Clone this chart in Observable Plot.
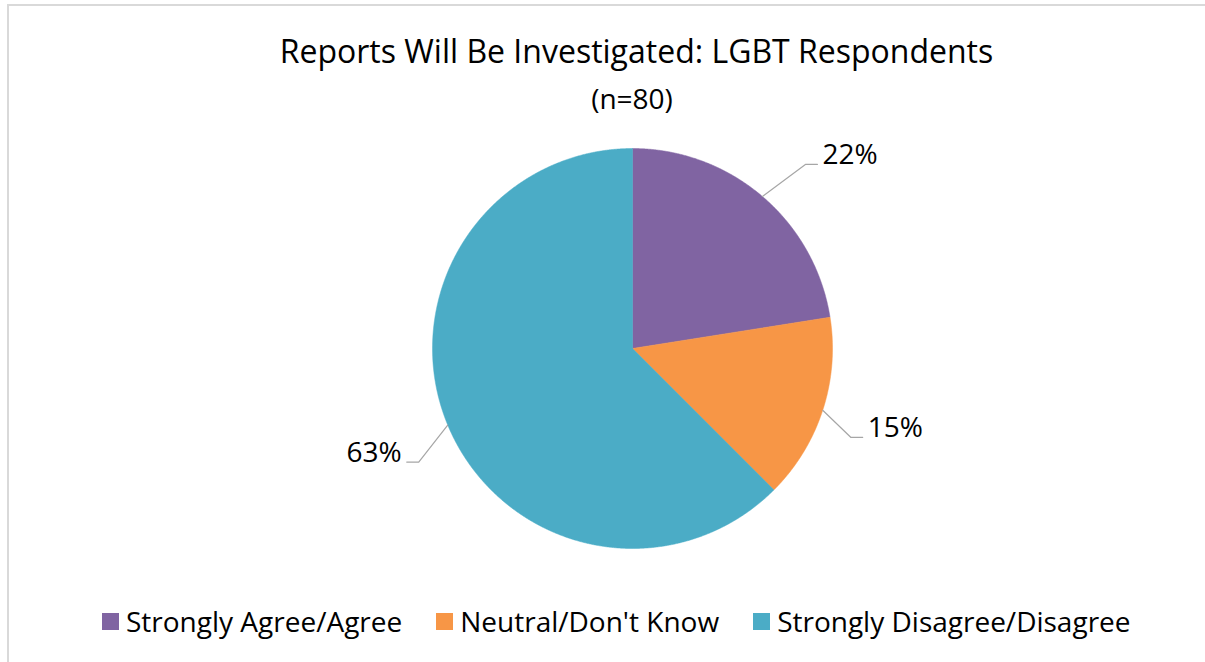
<!DOCTYPE html>
<html><head><meta charset="utf-8">
<script src="https://cdn.jsdelivr.net/npm/d3@7"></script>
<script src="https://cdn.jsdelivr.net/npm/@observablehq/plot@0.6"></script>
<style>
body{margin:0;background:#fff;font-family:"Open Sans",sans-serif;color:#000;}
#wrap{position:relative;width:1205px;height:662px;overflow:hidden;background:#fff;}
#frame{position:absolute;left:7px;top:4px;width:1400px;height:900px;border:2px solid #d9d9d9;box-sizing:border-box;}
#title{position:absolute;left:0;width:1273px;top:35px;text-align:center;font-size:32px;line-height:32px;white-space:nowrap;}
#subtitle{position:absolute;left:0;width:1264px;top:84px;text-align:center;font-size:28px;line-height:28px;white-space:nowrap;}
#chart{position:absolute;left:0;top:128px;}
#legend{position:absolute;left:102px;top:607px;display:flex;align-items:center;font-size:28px;line-height:28px;white-space:nowrap;}
.item{display:flex;align-items:center;margin-right:34px;}
.sw{width:17px;height:17px;margin-right:7px;}
</style>
</head><body>
<div id="wrap">
  <div id="frame"></div>
  <div id="title"></div>
  <div id="subtitle"></div>
  <div id="chart"></div>
  <div id="legend"></div>
</div>
<script>
// ---- data ----
const titleText = "Reports Will Be Investigated: LGBT Respondents";
const subtitleText = "(n=80)";
const categories = ["Strongly Agree/Agree", "Neutral/Don't Know", "Strongly Disagree/Disagree"];
const values = [22.5, 15, 62.5];
const labels = ["22%", "15%", "63%"];
const colors = ["#8064A2", "#F79646", "#4BACC6"];

// ---- layout ----
const W = 1205, H = 440, R = 200, CX = 632, CY = 220;
const leaderNudge = [[43, -32], [28, 27], [-29, 37]]; // px, edge -> elbow
const tail = 12, gap = 5;

document.getElementById("title").textContent = titleText;
document.getElementById("subtitle").textContent = subtitleText;

const arcs = d3.pie().sort(null)(values);
const slicePts = [];
arcs.forEach((a, i) => {
  const cat = categories[i];
  slicePts.push({cat, x: 0, y: 0});
  const n = Math.max(2, Math.ceil((a.endAngle - a.startAngle) / 0.004));
  for (let k = 0; k <= n; k++) {
    const t = a.startAngle + (a.endAngle - a.startAngle) * k / n;
    slicePts.push({cat, x: Math.sin(t), y: Math.cos(t)});
  }
  slicePts.push({cat, x: 0, y: 0});
});

const leaders = [];
const labelRows = [];
arcs.forEach((a, i) => {
  const m = (a.startAngle + a.endAngle) / 2;
  const ex = Math.sin(m), ey = Math.cos(m);
  const bx = ex + leaderNudge[i][0] / R, by = ey - leaderNudge[i][1] / R;
  const s = bx >= 0 ? 1 : -1;
  const tx = bx + s * tail / R;
  leaders.push({id: i, x: ex, y: ey}, {id: i, x: bx, y: by}, {id: i, x: tx, y: by});
  labelRows.push({x: tx + s * gap / R, y: by, text: labels[i], anchor: s > 0 ? "start" : "end"});
});

const plot = Plot.plot({
  width: W, height: H,
  margin: 0,
  x: {type: "linear", domain: [-CX / R, (W - CX) / R], axis: null},
  y: {type: "linear", domain: [-(H - CY) / R, CY / R], axis: null},
  color: {domain: categories, range: colors},
  style: {background: "transparent", fontFamily: "'Open Sans', sans-serif"},
  marks: [
    Plot.line(slicePts, {x: "x", y: "y", z: "cat", fill: "cat", stroke: "cat", strokeWidth: 0.5, curve: "linear"}),
    Plot.line(leaders, {x: "x", y: "y", z: "id", stroke: "#a6a6a6", strokeWidth: 1.2}),
    Plot.text(labelRows.filter(d => d.anchor === "start"), {x: "x", y: "y", text: "text", textAnchor: "start", fontSize: 28, fill: "#000", dy: -9}),
    Plot.text(labelRows.filter(d => d.anchor === "end"), {x: "x", y: "y", text: "text", textAnchor: "end", fontSize: 28, fill: "#000", dy: -9})
  ]
});
document.getElementById("chart").appendChild(plot);

const legend = document.getElementById("legend");
categories.forEach((c, i) => {
  const it = document.createElement("div");
  it.className = "item";
  const sw = document.createElement("div");
  sw.className = "sw";
  sw.style.background = colors[i];
  const tx = document.createElement("span");
  tx.textContent = c;
  it.appendChild(sw); it.appendChild(tx);
  legend.appendChild(it);
});
</script>
</body></html>
